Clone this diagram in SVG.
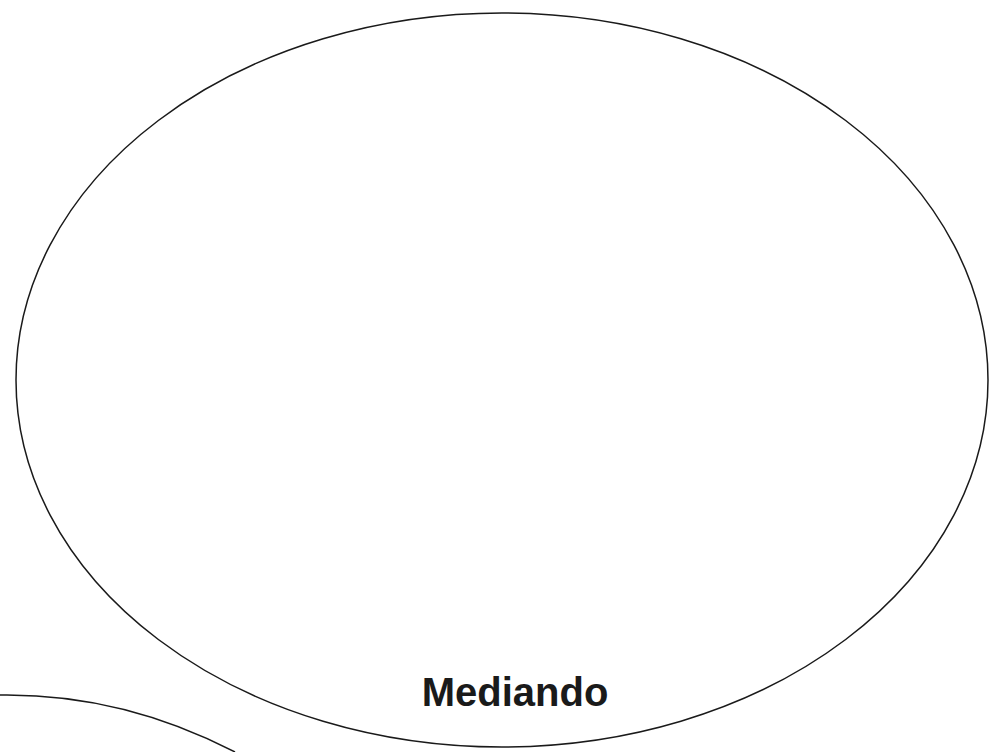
<svg xmlns="http://www.w3.org/2000/svg" width="990" height="752" viewBox="0 0 990 752">
<style>
.shape{fill:none;stroke:#1a1a1a;stroke-width:1.5}
.label{font-family:"Liberation Sans",Arial,sans-serif;font-weight:bold;font-size:40px;fill:#1a1a1a}
</style>
<rect width="990" height="752" fill="#ffffff"/>
<g id="node-mediando">
<ellipse class="shape" cx="502" cy="380" rx="486" ry="367"/>
<text class="label" x="515" y="706" text-anchor="middle">Mediando</text>
</g>
<g id="node-partial">
<path class="shape" d="M0,695 C70,694 150,708 235,752"/>
</g>
<g id="connectors"/>
</svg>
